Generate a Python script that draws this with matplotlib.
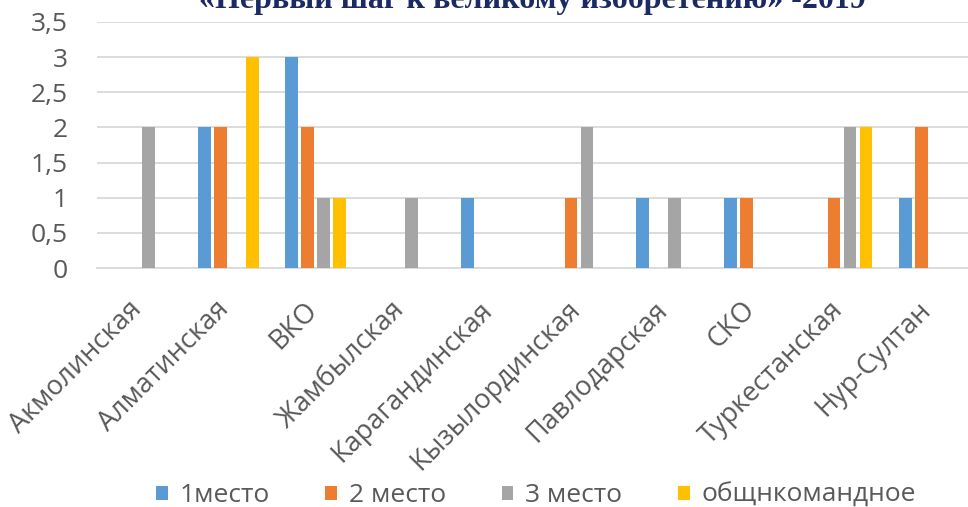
import numpy as np
import matplotlib
matplotlib.use('Agg')
import matplotlib.pyplot as plt
import matplotlib.transforms as mtransforms

regions = ['Акмолинская', 'Алматинская', 'ВКО', 'Жамбылская', 'Карагандинская',
           'Кызылординская', 'Павлодарская', 'СКО', 'Туркестанская', 'Нур-Султан']
first = [0, 2, 3, 0, 1, 0, 1, 1, 0, 1]
second = [0, 2, 2, 0, 0, 1, 0, 1, 1, 2]
third = [2, 0, 1, 1, 0, 2, 1, 0, 2, 0]
team = [0, 3, 1, 0, 0, 0, 0, 0, 2, 0]
series_names = ['1место', '2 место', '3 место', 'общнкомандное']
colors = ['#5B9BD5', '#ED7D31', '#A5A5A5', '#FFC000']

plt.rcParams['font.family'] = ['Open Sans', 'DejaVu Sans']

fig = plt.figure(figsize=(9.68, 5.07), dpi=100)
ax = fig.add_axes([96.6 / 968, (507 - 268) / 507, 877 / 968, 246 / 507])

x = np.arange(len(regions))
slot = 0.1825
for i, (vals, name) in enumerate(zip([first, second, third, team], series_names)):
    ax.bar(x + (i - 1.5) * slot, vals, width=0.145, color=colors[i], label=name, zorder=3)

ax.set_xlim(-0.5, len(regions) - 0.5)
ax.set_ylim(0, 3.5)
ax.set_yticks(np.arange(0, 3.51, 0.5))
ax.set_yticklabels(['0', '0,5', '1', '1,5', '2', '2,5', '3', '3,5'])
ax.grid(axis='y', color='#D9D9D9', linewidth=1.3, zorder=0)
for s in ['top', 'right', 'left']:
    ax.spines[s].set_visible(False)
ax.spines['bottom'].set_color('#D9D9D9')
ax.spines['bottom'].set_linewidth(1.3)
ax.tick_params(axis='y', length=0, pad=21, labelsize=19, labelcolor='#595959')
ax.tick_params(axis='x', length=0, pad=20, labelsize=19.5, labelcolor='#595959')
ax.set_xticks(x)
ax.set_xticklabels(regions, rotation=45, ha='right', va='top', rotation_mode='default')
offset = mtransforms.ScaledTranslation(7 / 100, 0, fig.dpi_scale_trans)
for lbl in ax.get_xticklabels():
    lbl.set_transform(lbl.get_transform() + offset)

ax.legend(loc='center', bbox_to_anchor=(0.501, -0.925), ncol=4, frameon=False,
          fontsize=19, labelcolor='#595959', handlelength=0.45, handleheight=0.45,
          handletextpad=0.45, columnspacing=2.1)

fig.text(0.55, 1 - 8 / 507, '«Первый шаг к великому изобретению» -2019',
         family='Liberation Serif', fontweight='bold', fontsize=23,
         color='#1B2A63', ha='center', va='baseline')

fig.savefig('out.png', dpi=100)
